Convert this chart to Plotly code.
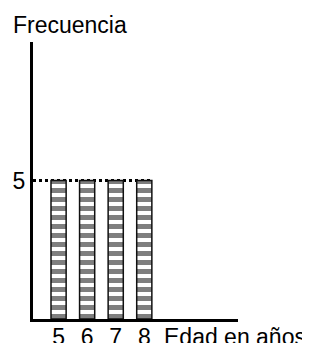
import plotly.graph_objects as go

ages = [5, 6, 7, 8]
freq = [5, 5, 5, 5]
y_ticks = [5]
x_title = "Edad en años"
y_title = "Frecuencia"

bar_width = 0.53
x_range = [4.105, 11.28]
y_range = [0, 10]

fig = go.Figure()
fig.add_trace(go.Bar(
    x=ages, y=freq, width=bar_width,
    marker=dict(
        color="white",
        line=dict(color="#111111", width=1.5),
        pattern=dict(shape="-", fgcolor="black", bgcolor="white", size=9, solidity=0.55),
    ),
    showlegend=False,
))

ref_y = max(freq)
fig.add_shape(type="line", xref="x", yref="y",
              x0=x_range[0], x1=ages[-1] + bar_width / 2, y0=ref_y, y1=ref_y,
              line=dict(color="black", width=3, dash="3px,3px"), layer="below")

font = dict(family="Liberation Sans, Arial, sans-serif", size=23, color="black")

fig.update_layout(
    width=310, height=343,
    margin=dict(l=25, r=80, t=34, b=32),
    paper_bgcolor="white", plot_bgcolor="white",
    font=font,
    xaxis=dict(range=x_range, tickvals=ages, ticktext=[str(a) for a in ages],
               showgrid=False, zeroline=False, showline=True, linecolor="black", linewidth=3,
               ticks="", tickfont=font, automargin=False, ticklabelstandoff=-5),
    yaxis=dict(range=y_range, tickvals=y_ticks, showgrid=False, zeroline=False,
               showline=True, linecolor="black", linewidth=3, ticks="", tickfont=font,
               automargin=False),
    annotations=[
        dict(text=y_title, xref="paper", yref="paper", x=-0.105, y=1.0, yshift=2,
             xanchor="left", yanchor="bottom", showarrow=False, font=font),
        dict(text=x_title, xref="paper", yref="paper", x=0.63, y=0, yshift=-3,
             xanchor="left", yanchor="top", showarrow=False, font=font),
    ],
)

fig.write_html("out.html")
